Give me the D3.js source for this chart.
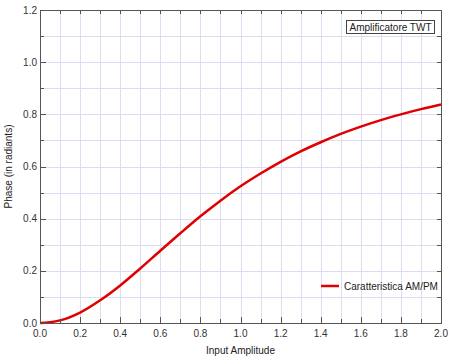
<!DOCTYPE html>
<html>
<head>
  <title>Amplificatore TWT - AM/PM</title>
  <script src="https://d3js.org/d3.v7.min.js"></script>
  <style>
    body { margin: 0; background: #fff; }
    svg { font-family: "Liberation Sans", Arial, sans-serif; }
    .grid line { stroke: #dcdcf2; stroke-width: 1; }
    .tick-label { font-size: 10px; fill: #333; }
    .axis-title { font-size: 10px; fill: #222; }
  </style>
</head>
<body>
  <svg id="chart" width="462" height="357"></svg>
  <script>
    // values (input amplitude vs phase in radiants)
    const amplitude = [0, 0.05, 0.1, 0.2, 0.3, 0.4, 0.5, 0.6, 0.7, 0.8, 0.9, 1.0,
                       1.1, 1.2, 1.3, 1.4, 1.5, 1.6, 1.7, 1.8, 1.9, 2.0];
    const phase = [0, 0.003, 0.010, 0.040, 0.087, 0.144, 0.209, 0.277, 0.344, 0.409, 0.469, 0.524,
                   0.573, 0.618, 0.658, 0.693, 0.725, 0.753, 0.778, 0.800, 0.820, 0.838];
    const xTicks = [0, 0.2, 0.4, 0.6, 0.8, 1.0, 1.2, 1.4, 1.6, 1.8, 2.0];
    const yTicks = [0, 0.2, 0.4, 0.6, 0.8, 1.0, 1.2];
    const seriesName = "Caratteristica AM/PM";
    const titleText = "Amplificatore TWT";

    const svg = d3.select("#chart");
    const margin = { left: 40, right: 21, top: 10, bottom: 34 };
    const width = 462, height = 357;

    const x = d3.scaleLinear().domain([0, 2]).range([margin.left, width - margin.right]);
    const y = d3.scaleLinear().domain([0, 1.2]).range([height - margin.bottom, margin.top]);

    const minor = d3.range(0, 21).map(i => i / 10);
    const minorY = d3.range(0, 13).map(i => i / 10);

    // grid every 0.1
    const grid = svg.append("g").attr("class", "grid");
    grid.selectAll(".gx").data(minor.slice(1, -1)).enter().append("line")
      .attr("x1", d => Math.round(x(d)) + 0.5).attr("x2", d => Math.round(x(d)) + 0.5)
      .attr("y1", y(1.2)).attr("y2", y(0));
    grid.selectAll(".gy").data(minorY.slice(1, -1)).enter().append("line")
      .attr("y1", d => Math.round(y(d)) + 0.5).attr("y2", d => Math.round(y(d)) + 0.5)
      .attr("x1", x(0)).attr("x2", x(2));

    // curve
    const line = d3.line()
      .x((d, i) => x(amplitude[i]))
      .y(d => y(d))
      .curve(d3.curveMonotoneX);
    svg.append("path")
      .datum(phase)
      .attr("d", line)
      .attr("fill", "none")
      .attr("stroke", "#e00000")
      .attr("stroke-width", 2.5);

    // frame
    svg.append("rect")
      .attr("x", x(0) + 0.5).attr("y", y(1.2) + 0.5)
      .attr("width", x(2) - x(0)).attr("height", y(0) - y(1.2))
      .attr("fill", "none").attr("stroke", "#555").attr("stroke-width", 1);

    // axes with inward ticks
    const isMajor = v => Math.abs(v * 5 - Math.round(v * 5)) < 1e-6;
    const ticks = svg.append("g").attr("stroke", "#555").attr("stroke-width", 1);
    minor.forEach(v => {
      const px = Math.round(x(v)) + 0.5;
      const len = isMajor(v) ? 6 : 4;
      ticks.append("line").attr("x1", px).attr("x2", px).attr("y1", y(0)).attr("y2", y(0) - len);
      ticks.append("line").attr("x1", px).attr("x2", px).attr("y1", y(1.2)).attr("y2", y(1.2) + 4);
    });
    minorY.forEach(v => {
      const py = Math.round(y(v)) + 0.5;
      const len = isMajor(v) ? 6 : 4;
      ticks.append("line").attr("y1", py).attr("y2", py).attr("x1", x(0)).attr("x2", x(0) + len);
      ticks.append("line").attr("y1", py).attr("y2", py).attr("x1", x(2)).attr("x2", x(2) - 4);
    });

    svg.selectAll(".xl").data(xTicks).enter().append("text")
      .attr("class", "tick-label")
      .attr("x", d => x(d)).attr("y", y(0) + 14)
      .attr("text-anchor", "middle")
      .text(d => d.toFixed(1));
    svg.selectAll(".yl").data(yTicks).enter().append("text")
      .attr("class", "tick-label")
      .attr("x", x(0) - 3).attr("y", d => y(d) + 3.5)
      .attr("text-anchor", "end")
      .text(d => d.toFixed(1));

    // axis titles
    svg.append("text").attr("class", "axis-title")
      .attr("x", (x(0) + x(2)) / 2).attr("y", 354)
      .attr("text-anchor", "middle").text("Input Amplitude");
    svg.append("text").attr("class", "axis-title")
      .attr("transform", `translate(12,${(y(0) + y(1.2)) / 2}) rotate(-90)`)
      .attr("text-anchor", "middle").text("Phase (in radiants)");

    // title box
    const tb = svg.append("g");
    const tt = tb.append("text").attr("class", "axis-title")
      .attr("x", 390.5).attr("y", 31).attr("text-anchor", "middle").text(titleText);
    const bb = tt.node().getBBox();
    tb.insert("rect", "text")
      .attr("x", Math.round(bb.x - 3) + 0.5).attr("y", 20.5)
      .attr("width", Math.round(bb.width + 6)).attr("height", 13)
      .attr("fill", "#fff").attr("stroke", "#444").attr("stroke-width", 1);

    // legend
    svg.append("line")
      .attr("x1", 321).attr("x2", 339).attr("y1", 286).attr("y2", 286)
      .attr("stroke", "#e00000").attr("stroke-width", 2.5);
    svg.append("text").attr("class", "axis-title")
      .attr("x", 344).attr("y", 289.5).text(seriesName);
  </script>
</body>
</html>
